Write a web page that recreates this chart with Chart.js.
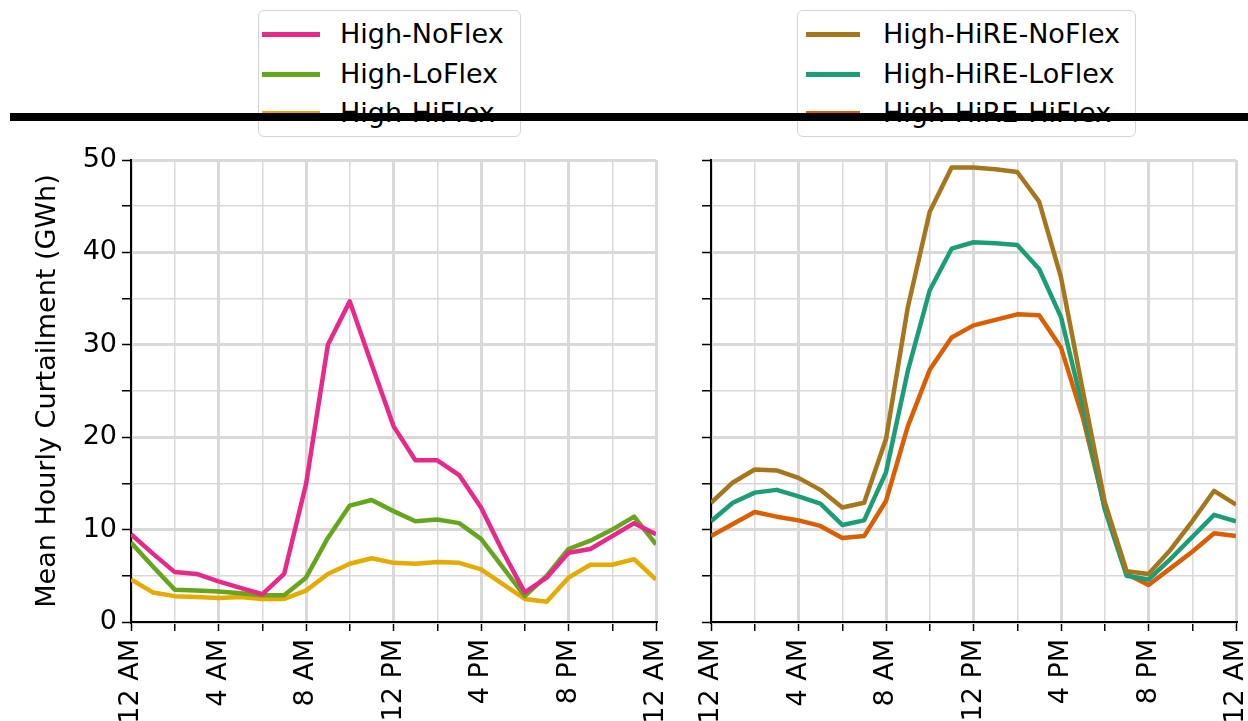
<!DOCTYPE html>
<html>
<head>
<meta charset="utf-8">
<script src="https://cdn.jsdelivr.net/npm/chart.js@4.4.1/dist/chart.umd.min.js"></script>
<style>
  body { margin: 0; background: #fff; width: 1248px; height: 721px; overflow: hidden; position: relative; font-family: "DejaVu Sans", sans-serif; }
  canvas { position: absolute; top: 0; }
  #leftChart { left: 0; }
  #rightChart { left: 680px; }
  .legend { position: absolute; top: 10px; height: 127px; border: 1.5px solid #d4d4d4; border-radius: 6px; background: #fff; box-sizing: border-box; }
  #leftLegend { left: 258px; width: 263px; }
  #rightLegend { left: 797px; width: 339px; }
  .legend .row { position: absolute; left: 0; height: 32px; font-size: 27px; line-height: 32px; color: #000; white-space: nowrap; }
  .legend .swatch { position: absolute; top: 14px; height: 5px; }
  .legend .txt { position: absolute; top: 0; }
  .bar { position: absolute; left: 10px; top: 113px; width: 1238px; height: 8px; background: #000; }
</style>
</head>
<body>
<canvas id="leftChart" width="680" height="721"></canvas>
<canvas id="rightChart" width="568" height="721"></canvas>
<div class="legend" id="leftLegend"></div>
<div class="legend" id="rightLegend"></div>
<div class="bar"></div>
<script>
// hour of day, 0 = midnight
const hours = [0, 1, 2, 3, 4, 5, 6, 7, 8, 9, 10, 11, 12, 13, 14, 15, 16, 17, 18, 19, 20, 21, 22, 23, 24];
const tickLabels = ['12 AM', '4 AM', '8 AM', '12 PM', '4 PM', '8 PM', '12 AM'];

// Mean hourly curtailment (GWh)
const highNoFlex = [9.5, 7.4, 5.4, 5.2, 4.4, 3.7, 3.0, 5.2, 14.9, 30.0, 34.7, 27.9, 21.2, 17.5, 17.5, 15.9, 12.4, 7.6, 3.2, 4.8, 7.5, 7.9, 9.3, 10.7, 9.5];
const highLoFlex = [8.6, 6.0, 3.5, 3.4, 3.3, 3.1, 2.9, 2.9, 4.8, 9.1, 12.6, 13.2, 12.0, 10.9, 11.1, 10.7, 9.0, 5.9, 2.8, 5.0, 7.9, 8.8, 10.0, 11.4, 8.4];
const highHiFlex = [4.6, 3.2, 2.8, 2.7, 2.6, 2.7, 2.5, 2.5, 3.4, 5.2, 6.3, 6.9, 6.4, 6.3, 6.5, 6.4, 5.7, 4.1, 2.5, 2.2, 4.8, 6.2, 6.2, 6.8, 4.6];

const hireNoFlex = [12.9, 15.1, 16.5, 16.4, 15.6, 14.3, 12.4, 12.9, 19.8, 34.1, 44.4, 49.2, 49.2, 49.0, 48.7, 45.5, 37.3, 25.0, 13.0, 5.5, 5.2, 7.8, 10.9, 14.2, 12.7];
const hireLoFlex = [10.9, 12.9, 14.0, 14.3, 13.6, 12.8, 10.5, 11.0, 16.2, 27.2, 35.9, 40.4, 41.1, 41.0, 40.8, 38.2, 33.0, 23.2, 12.2, 5.0, 4.6, 6.8, 9.2, 11.6, 10.9];
const hireHiFlex = [9.3, 10.6, 11.9, 11.4, 11.0, 10.4, 9.1, 9.3, 13.1, 21.2, 27.3, 30.8, 32.1, 32.7, 33.3, 33.2, 29.7, 22.1, 12.4, 5.2, 4.0, 5.8, 7.6, 9.6, 9.3];

const leftSeries = [
    { label: 'High-NoFlex', values: highNoFlex, color: '#e7298a' },
    { label: 'High-LoFlex', values: highLoFlex, color: '#66a61e' },
    { label: 'High-HiFlex', values: highHiFlex, color: '#e6ab02' },
];
const rightSeries = [
    { label: 'High-HiRE-NoFlex', values: hireNoFlex, color: '#a6761d' },
    { label: 'High-HiRE-LoFlex', values: hireLoFlex, color: '#1b9e77' },
    { label: 'High-HiRE-HiFlex', values: hireHiFlex, color: '#d95f02' },
];

const FONT = { family: 'DejaVu Sans', size: 27 };
const gridColor = '#d9d9d9';

function makeChart(id, series, opts) {
    return new Chart(document.getElementById(id), {
        type: 'line',
        data: {
            datasets: series.map(s => ({
                label: s.label,
                data: s.values.map((v, i) => ({ x: hours[i], y: v })),
                borderColor: s.color,
                backgroundColor: s.color,
                borderWidth: 4.5,
                pointRadius: 0,
                tension: 0,
                borderJoinStyle: 'round',
            })),
        },
        options: {
            responsive: false,
            animation: false,
            devicePixelRatio: 1,
            layout: { padding: { top: 160, right: opts.padRight, left: 0, bottom: 0 } },
            plugins: { legend: { display: false }, tooltip: { enabled: false } },
            scales: {
                x: {
                    type: 'linear',
                    min: 0,
                    max: 24,
                    border: { color: '#000', width: 2 },
                    grid: {
                        color: gridColor,
                        lineWidth: ctx => (ctx.tick && ctx.tick.value % 4 === 0 ? 3 : 1.5),
                        tickColor: '#000',
                        tickLength: 9,
                        tickWidth: 1.5,
                    },
                    ticks: {
                        stepSize: 2,
                        autoSkip: false,
                        minRotation: 90,
                        maxRotation: 90,
                        padding: 8,
                        color: '#000',
                        font: FONT,
                        callback: v => (v % 4 === 0 ? tickLabels[v / 4] : ''),
                    },
                    afterFit: scale => {
                        scale.height = 99;
                        scale.paddingLeft = 0;
                        scale.paddingRight = 0;
                    },
                },
                y: {
                    min: 0,
                    max: 50,
                    border: { color: '#000', width: 2 },
                    grid: {
                        color: gridColor,
                        lineWidth: ctx => (ctx.tick && ctx.tick.value % 10 === 0 ? 3 : 1.5),
                        tickColor: '#000',
                        tickLength: 9,
                        tickWidth: 1.5,
                    },
                    ticks: {
                        stepSize: 5,
                        padding: 5,
                        color: '#000',
                        font: FONT,
                        callback: v => (opts.yLabels && v % 10 === 0 ? v : ''),
                    },
                    title: {
                        display: opts.yLabels,
                        text: 'Mean Hourly Curtailment (GWh)',
                        color: '#000',
                        font: FONT,
                        padding: { top: 32, bottom: 0 },
                    },
                    afterFit: scale => {
                        scale.width = opts.yWidth;
                        scale.paddingTop = 0;
                        scale.paddingBottom = 0;
                    },
                },
            },
        },
    });
}

function buildLegend(id, series, swatchLeft, swatchWidth, textLeft) {
    const box = document.getElementById(id);
    series.forEach((s, i) => {
        const row = document.createElement('div');
        row.className = 'row';
        row.style.top = (7 + i * 39.5) + 'px';
        const sw = document.createElement('div');
        sw.className = 'swatch';
        sw.style.left = swatchLeft + 'px';
        sw.style.width = swatchWidth + 'px';
        sw.style.background = s.color;
        const tx = document.createElement('div');
        tx.className = 'txt';
        tx.style.left = textLeft + 'px';
        tx.textContent = s.label;
        row.appendChild(sw);
        row.appendChild(tx);
        box.appendChild(row);
    });
}

makeChart('leftChart', leftSeries, { yLabels: true, yWidth: 131, padRight: 24 });
makeChart('rightChart', rightSeries, { yLabels: false, yWidth: 31, padRight: 12 });
buildLegend('leftLegend', leftSeries, 3, 58, 81);
buildLegend('rightLegend', rightSeries, 8, 54, 85);
</script>
</body>
</html>
